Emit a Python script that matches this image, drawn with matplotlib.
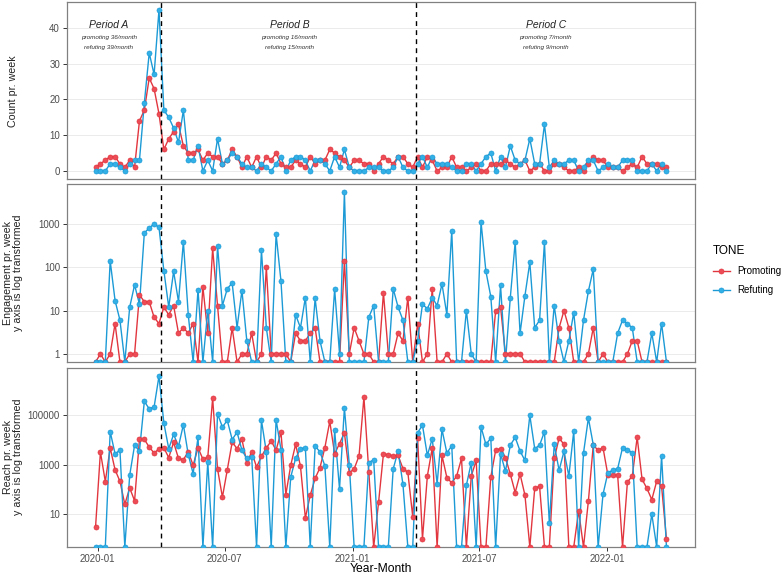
import matplotlib
matplotlib.use('Agg')
import numpy as np
import pandas as pd
import matplotlib.pyplot as plt
import matplotlib.dates as mdates
from matplotlib.lines import Line2D
from matplotlib.ticker import FixedLocator, FixedFormatter

plt.rcParams['font.family'] = ['Liberation Sans', 'DejaVu Sans']

# weekly data, first week starting 2019-12-29
weeks = pd.date_range('2019-12-29', periods=118, freq='7D')

count_promoting = [1, 2, 3, 4, 4, 2, 1, 3, 1, 14, 17, 26, 23, 16, 6, 9, 11, 13, 7, 5, 5, 6, 3, 5, 4, 4, 2, 3, 6, 4,
                   1, 4, 1, 4, 1, 4, 3, 5, 2, 1, 1, 3, 2, 1, 4, 2, 3, 3, 6, 5, 4, 3, 1, 3, 3, 2, 2, 0, 2, 4,
                   3, 2, 4, 4, 2, 1, 4, 1, 4, 3, 0, 1, 1, 4, 1, 1, 0, 1, 2, 0, 0, 2, 2, 2, 3, 2, 1, 2, 3, 0,
                   1, 2, 0, 0, 2, 2, 1, 0, 0, 1, 0, 2, 4, 3, 3, 1, 1, 1, 0, 1, 2, 1, 4, 2, 2, 2, 1, 1]
count_refuting = [0, 0, 0, 2, 2, 1, 0, 2, 3, 3, 19, 33, 27, 45, 17, 15, 12, 8, 17, 3, 3, 7, 0, 3, 0, 9, 2, 3, 5, 4,
                  2, 1, 1, 0, 2, 1, 0, 2, 4, 0, 3, 4, 4, 3, 0, 3, 3, 2, 0, 4, 1, 6, 1, 0, 0, 0, 1, 1, 1, 0,
                  0, 1, 4, 1, 0, 0, 2, 4, 1, 4, 2, 2, 2, 1, 0, 0, 2, 2, 0, 2, 4, 5, 0, 4, 1, 7, 3, 2, 3, 9,
                  2, 2, 13, 1, 3, 2, 2, 3, 3, 0, 1, 3, 3, 0, 1, 2, 1, 1, 3, 3, 3, 0, 0, 0, 2, 0, 2, 0]

eng_promoting = [0, 1, 0, 1, 5, 0, 0, 1, 1, 23, 16, 16, 7, 5, 12, 8, 13, 3, 4, 3, 5, 0, 35, 3, 270, 13, 0, 0, 4, 0,
                 1, 1, 3, 0, 1, 100, 1, 1, 1, 1, 0, 3, 2, 2, 3, 4, 0, 0, 0, 0, 0, 140, 1, 4, 2, 1, 1, 0, 0, 26,
                 1, 1, 3, 2, 20, 0, 5, 0, 1, 32, 0, 0, 1, 0, 0, 0, 0, 0, 0, 0, 0, 0, 10, 12, 1, 1, 1, 1, 0, 0,
                 0, 0, 0, 0, 0, 4, 10, 4, 0, 0, 0, 1, 4, 0, 1, 0, 0, 0, 0, 1, 2, 2, 0, 0, 0, 0, 0, 0]
eng_refuting = [0, 0, 0, 140, 17, 6, 0, 12, 39, 14, 620, 800, 1000, 830, 83, 12, 80, 16, 390, 8, 0, 30, 0, 10, 0,
                310, 13, 32, 43, 4, 29, 2, 0, 0, 250, 4, 0, 580, 48, 0, 0, 8, 4, 20, 0, 19, 2, 0, 0, 31, 1, 5400,
                0, 0, 0, 0, 7, 13, 0, 0, 0, 32, 12, 6, 0, 0, 2, 14, 11, 20, 13, 41, 8, 690, 0, 0, 10, 1, 0, 1100,
                80, 21, 0, 38, 0, 20, 380, 3, 22, 130, 4, 6, 380, 0, 13, 2, 0, 2, 9, 0, 6, 28, 90, 0, 0, 0, 0,
                3, 6, 5, 4, 0, 0, 0, 3, 0, 5, 0]

reach_promoting = [3, 3300, 210, 4800, 630, 215, 25, 115, 35, 10700, 10700, 5200, 3000, 4400, 4900, 1950, 8100,
                   1800, 1600, 3400, 950, 4900, 1700, 2000, 500000, 680, 49, 630, 8300, 4500, 10700, 1230, 3300,
                   810, 2200, 4800, 9200, 3900, 21000, 62, 950, 6700, 870, 7, 59, 280, 770, 5000, 57000, 2800,
                   7200, 19700, 480, 680, 2300, 550000, 530, 0, 30, 2750, 2600, 2300, 2400, 700, 500, 8, 12000,
                   1, 350, 4800, 0, 2400, 300, 185, 350, 1800, 0, 350, 1500, 0, 0, 320, 3900, 4500, 1950, 420,
                   75, 420, 59, 0, 110, 135, 0, 0, 1800, 12000, 6700, 0, 0, 13.6, 0, 34, 6200, 3900, 4900, 380,
                   380, 380, 0, 200, 350, 13000, 260, 110, 39, 215, 135, 1]
reach_refuting = [0, 0, 0, 22000, 2800, 3900, 0, 380, 6200, 3600, 370000, 185000, 220000, 3900000, 49000, 4500,
                  17000, 5600, 42000, 2600, 440, 13000, 0, 1300, 0, 117000, 34000, 63000, 10500, 21000, 3900,
                  1800, 2100, 0, 63000, 3300, 0, 67000, 4100, 0, 320, 1800, 4500, 4900, 0, 5800, 3300, 900, 0,
                  25000, 105, 200000, 1020, 0, 0, 0, 1230, 1600, 0, 0, 0, 680, 3600, 160, 0, 0, 19700,
                  40000, 2400, 11500, 170, 27000, 3000, 5900, 0, 0, 150, 1230, 0, 34000, 6700, 12000, 0, 2800,
                  550, 6200, 13000, 3600, 1500, 100000, 4500, 6200, 22000, 4.2, 6700, 600, 3500, 350, 23000, 0,
                  3000, 78000, 6500, 0, 64, 480, 600, 700, 4900, 4000, 3100, 0, 0, 0, 10, 0, 2300, 0]

period_breaks = ['2020-04-01', '2021-04-01']
period_labels = ['Period A', 'Period B', 'Period C']
period_text_dates = ['2020-01-17', '2020-10-02', '2021-10-05']
period_rates = [('promoting 36/month', 'refuting 39/month'),
                ('promoting 16/month', 'refuting 15/month'),
                ('promoting 7/month', 'refuting 9/month')]

xtick_dates = ['2020-01-01', '2020-07-01', '2021-01-01', '2021-07-01', '2022-01-01']

RED_LINE, RED_PT = '#E2363F', '#EC4C56'
BLUE_LINE, BLUE_PT = '#1C9AD6', '#33B0E6'
GRID = '#EBEBEB'
BORDER = '#808080'
TICKTXT = '#4D4D4D'

W, H = 784, 574
fig = plt.figure(figsize=(W / 100, H / 100), dpi=100)


def panel(top, bottom):
    left, right = 67, 695
    return fig.add_axes([left / W, 1 - bottom / H, (right - left) / W, (bottom - top) / H])


ax1 = panel(2, 179)
ax2 = panel(184, 362)
ax3 = panel(368, 547)

x0, x1 = weeks[0], weeks[-1]
span = x1 - x0
xlim = (x0 - span * 0.05, x1 + span * 0.05)


def log_limits(vals):
    v = np.array(vals, dtype=float)
    v = v[v > 0]
    lo, hi = np.log10(v.min()), np.log10(v.max())
    pad = 0.05 * (hi - lo)
    return 10 ** (lo - pad), 10 ** (hi + pad)


def draw(ax, red, blue, logy=False):
    red = np.array(red, dtype=float)
    blue = np.array(blue, dtype=float)
    if logy:
        lo, hi = log_limits(np.concatenate([red, blue]))
        ax.set_yscale('log')
        ax.set_ylim(lo, hi)
        # zero weeks sit on the lower panel edge, like -Inf in ggplot
        red = np.where(red > 0, red, lo)
        blue = np.where(blue > 0, blue, lo)
    else:
        hi = max(red.max(), blue.max())
        ax.set_ylim(-0.05 * hi, hi * 1.05)
    for vals, lc, pc in [(red, RED_LINE, RED_PT), (blue, BLUE_LINE, BLUE_PT)]:
        ax.plot(weeks, vals, color=lc, lw=1.0, zorder=3)
        ax.plot(weeks, vals, ls='none', marker='o', ms=3.6, mfc=pc, mec=lc, mew=0.5, zorder=4)
    for d in period_breaks:
        ax.axvline(pd.Timestamp(d), color='black', ls=(0, (3.5, 3)), lw=1.0, zorder=5)
    ax.set_xlim(xlim)
    ax.grid(axis='y', which='major', color=GRID, lw=0.7, zorder=0)
    ax.minorticks_off()
    for s in ax.spines.values():
        s.set_color(BORDER)
        s.set_linewidth(0.9)
    ax.tick_params(axis='both', which='major', length=3, width=0.7, color='#333333',
                   labelsize=7, labelcolor=TICKTXT, pad=2)
    ax.set_xticks([pd.Timestamp(d) for d in xtick_dates])
    ax.xaxis.set_major_formatter(mdates.DateFormatter('%Y-%m'))


draw(ax1, count_promoting, count_refuting)
ax1.set_yticks([0, 10, 20, 30, 40])
draw(ax2, eng_promoting, eng_refuting, logy=True)
ax2.yaxis.set_major_locator(FixedLocator([1, 10, 100, 1000]))
ax2.yaxis.set_major_formatter(FixedFormatter(['1', '10', '100', '1000']))
draw(ax3, reach_promoting, reach_refuting, logy=True)
ax3.yaxis.set_major_locator(FixedLocator([10, 1000, 100000]))
ax3.yaxis.set_major_formatter(FixedFormatter(['10', '1000', '100000']))
ax3.minorticks_off()
ax2.minorticks_off()

for ax in (ax1, ax2):
    ax.tick_params(axis='x', labelbottom=False, length=0)

# period annotations
for lab, d, (p, r) in zip(period_labels, period_text_dates, period_rates):
    xd = pd.Timestamp(d)
    ax1.text(xd, 40.8, lab, ha='center', va='center', fontsize=7.5, style='italic', color='#222222')
    ax1.text(xd, 37.2, p, ha='center', va='center', fontsize=4.6, style='italic', color='#333333')
    ax1.text(xd, 34.6, r, ha='center', va='center', fontsize=4.6, style='italic', color='#333333')

# axis titles
fig.text(13 / W, 1 - 91 / H, 'Count pr. week', rotation=90, ha='center', va='center', fontsize=7.7,
         color='#222222')
fig.text(13.5 / W, 1 - 273 / H, 'Engagement pr. week\ny axis is log transformed', rotation=90,
         ha='center', va='center', fontsize=7.7, multialignment='center', linespacing=1.0, color='#222222')
fig.text(13.5 / W, 1 - 457 / H, 'Reach pr. week\ny axis is log transformed', rotation=90,
         ha='center', va='center', fontsize=7.7, multialignment='center', linespacing=1.0, color='#222222')
fig.text(381 / W, 1 - 569 / H, 'Year-Month', ha='center', va='center', fontsize=8.7)

# legend
handles = [Line2D([], [], color=RED_LINE, lw=1.0, marker='o', ms=3.6, mfc=RED_PT, mec=RED_LINE, mew=0.5),
           Line2D([], [], color=BLUE_LINE, lw=1.0, marker='o', ms=3.6, mfc=BLUE_PT, mec=BLUE_LINE, mew=0.5)]
leg = fig.legend(handles, ['Promoting', 'Refuting'], title='TONE', loc='upper left',
                 bbox_to_anchor=(713 / W, 1 - 245 / H), frameon=False, fontsize=7,
                 title_fontsize=8.5, handlelength=1.7, handletextpad=0.8, labelspacing=0.95,
                 borderpad=0, borderaxespad=0)
leg._legend_box.align = 'left'

fig.savefig('out.png', dpi=100)
